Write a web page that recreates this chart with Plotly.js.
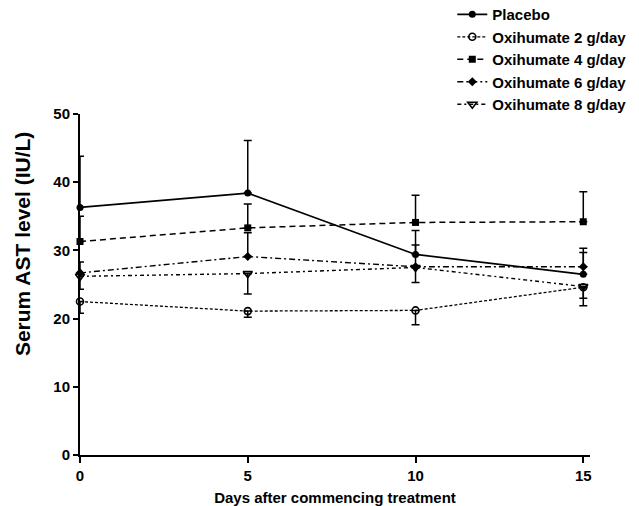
<!DOCTYPE html>
<html>
<head>
<meta charset="utf-8">
<script src="https://cdn.plot.ly/plotly-3.0.1.min.js"></script>
<style>html,body{margin:0;padding:0;background:#fff;}#chart{width:639px;height:506px;}</style>
</head>
<body>
<div id="chart"></div>
<script>
var days = [0, 5, 10, 15];
var seriesNames = ["Placebo", "Oxihumate 2 g/day", "Oxihumate 4 g/day", "Oxihumate 6 g/day", "Oxihumate 8 g/day"];
var placebo = [36.3, 38.4, 29.4, 26.5];
var oxi2 = [22.5, 21.1, 21.2, 24.6];
var oxi4 = [31.3, 33.3, 34.1, 34.2];
var oxi6 = [26.7, 29.1, 27.6, 27.6];
var oxi8 = [26.2, 26.6, 27.5, 24.7];
var placeboErrUp = [7.5, 7.7, 3.5, 3.2];
var oxi2ErrDown = [1.7, 0.9, 2.1, 1.6];
var oxi4ErrUp = [3.7, 3.5, 4.0, 4.4];
var oxi6ErrUp = [1.6, 3.5, 3.2, 2.7];
var oxi8ErrDown = [1.9, 3.0, 2.2, 2.8];
var yTitle = "Serum AST level (IU/L)";
var xTitle = "Days after commencing treatment";

var zeros = [0, 0, 0, 0];
function errUp(a){return {type:'data', symmetric:false, array:a, arrayminus:zeros, color:'#000', thickness:1.5, width:4};}
function errDown(a){return {type:'data', symmetric:false, array:zeros, arrayminus:a, color:'#000', thickness:1.5, width:4};}

var traces = [
  {x: days, y: placebo, name: seriesNames[0], mode:'lines+markers',
   line:{color:'#000', width:1.8, dash:'solid'},
   marker:{symbol:'circle', size:7, color:'#000'}, error_y: errUp(placeboErrUp), cliponaxis:false},
  {x: days, y: oxi2, name: seriesNames[1], mode:'lines+markers',
   line:{color:'#000', width:1.3, dash:'3px,2px'},
   marker:{symbol:'circle-open', size:7, color:'#000', line:{width:1.6}}, error_y: errDown(oxi2ErrDown), cliponaxis:false},
  {x: days, y: oxi4, name: seriesNames[2], mode:'lines+markers',
   line:{color:'#000', width:1.5, dash:'6px,4px'},
   marker:{symbol:'square', size:7, color:'#000'}, error_y: errUp(oxi4ErrUp), cliponaxis:false},
  {x: days, y: oxi6, name: seriesNames[3], mode:'lines+markers',
   line:{color:'#000', width:1.4, dash:'6px,3px,2px,3px'},
   marker:{symbol:'diamond', size:7, color:'#000'}, error_y: errUp(oxi6ErrUp), cliponaxis:false},
  {x: days, y: oxi8, name: seriesNames[4], mode:'lines+markers',
   line:{color:'#000', width:1.4, dash:'4px,3px,2px,3px'},
   marker:{symbol:'triangle-down-open', size:8, color:'#000', line:{width:1.6}}, error_y: errDown(oxi8ErrDown), cliponaxis:false}
];

var layout = {
  width: 639, height: 506,
  margin: {l: 80, r: 49, t: 114, b: 51, autoexpand: false},
  paper_bgcolor: '#fff', plot_bgcolor: '#fff',
  font: {family: 'Liberation Sans, Arial, sans-serif', color: '#000', size: 15},
  showlegend: true,
  legend: {x: 0.73, y: 1.34, xanchor: 'left', yanchor: 'top', bgcolor: 'rgba(0,0,0,0)',
           font: {size: 15, family: 'Liberation Sans, Arial, sans-serif', weight: 'bold'},
           tracegroupgap: 0, itemwidth: 30},
  xaxis: {
    range: [0, 15.2], tickvals: [0, 5, 10, 15], ticktext: ['0','5','10','15'],
    showgrid: false, zeroline: false, showline: true, linecolor: '#000', linewidth: 2,
    ticks: 'outside', ticklen: 6, tickwidth: 2, tickcolor: '#000',
    tickfont: {size: 15, weight: 'bold'},
    title: {text: xTitle, font: {size: 15, weight: 'bold'}, standoff: 16}
  },
  yaxis: {
    range: [0, 50], tickvals: [0, 10, 20, 30, 40, 50],
    showgrid: false, zeroline: false, showline: true, linecolor: '#000', linewidth: 2,
    ticks: 'outside', ticklen: 5, tickwidth: 2, tickcolor: '#000',
    tickfont: {size: 15, weight: 'bold'}
  },
  annotations: [{
    text: yTitle, xref: 'paper', yref: 'paper', x: -0.114, y: 0.618,
    xanchor: 'center', yanchor: 'middle', textangle: -90, showarrow: false,
    font: {size: 21, weight: 'bold', color: '#000'}
  }]
};

Plotly.newPlot('chart', traces, layout, {displayModeBar: false, staticPlot: true});
</script>
</body>
</html>
